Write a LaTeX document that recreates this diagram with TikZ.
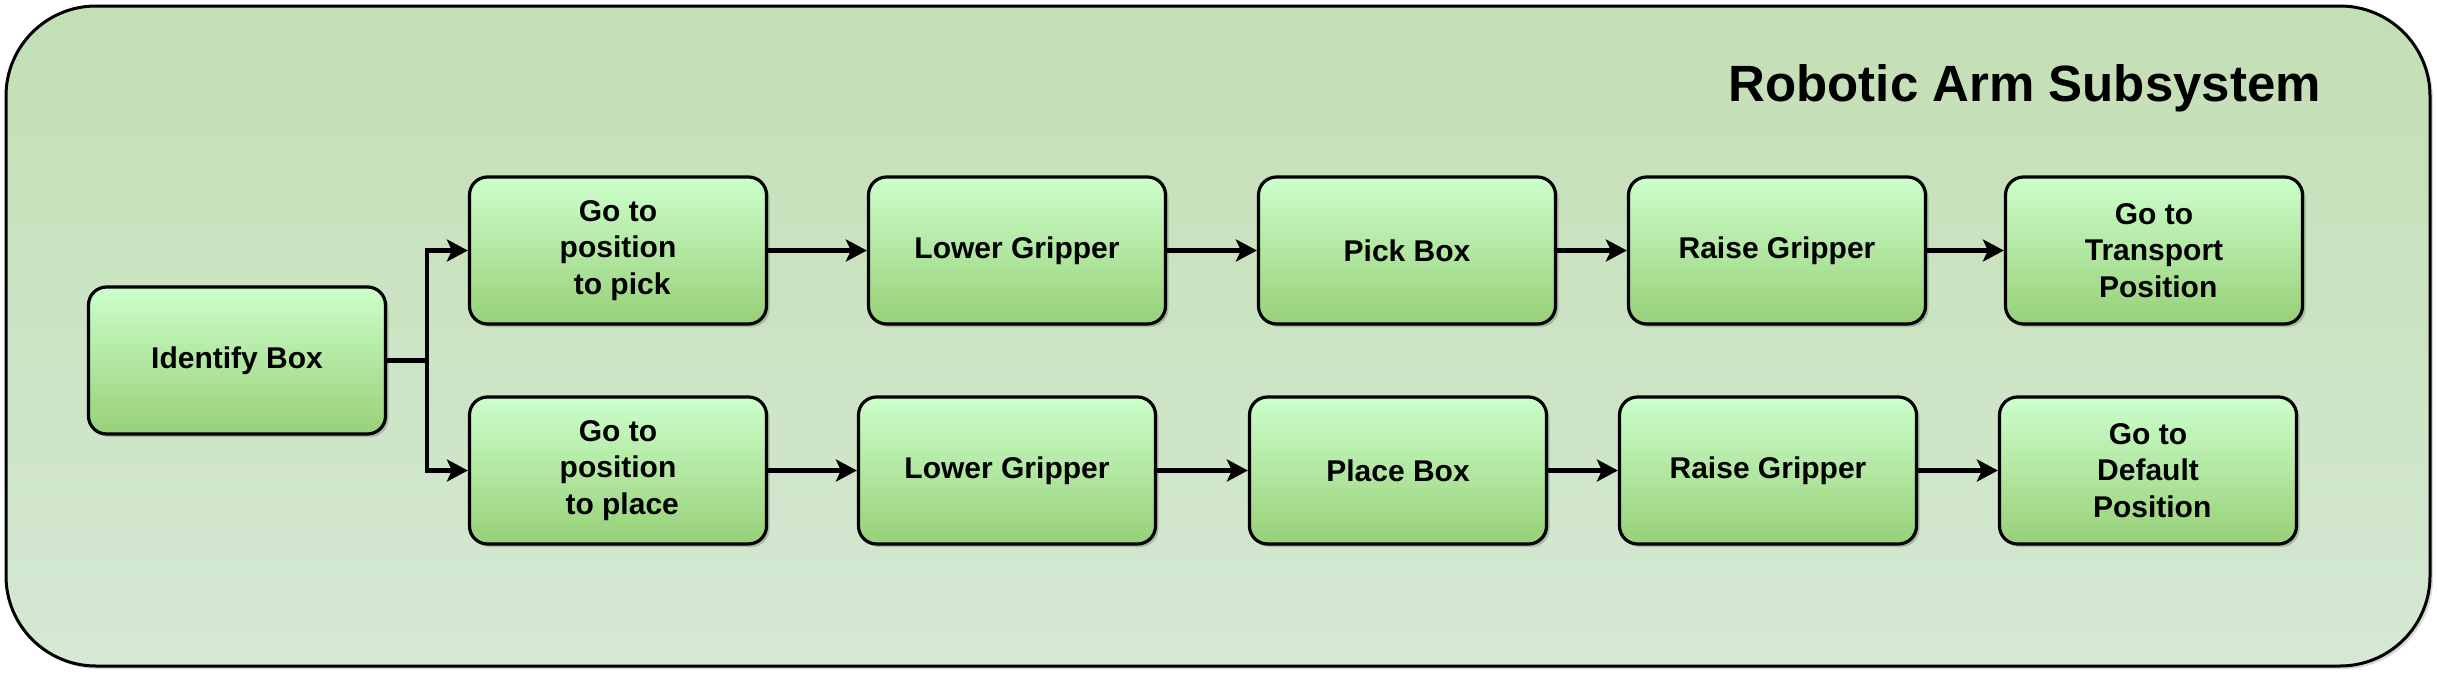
\documentclass[tikz,border=0pt]{standalone}
\usepackage{fontspec}
\setmainfont{Liberation Sans}
\usetikzlibrary{arrows.meta,shadows,calc}
\definecolor{boxtop}{HTML}{CCFFCC}
\definecolor{boxbot}{HTML}{97D077}
\definecolor{outtop}{HTML}{C3DFB4}
\definecolor{outbot}{HTML}{D5E8D4}
\tikzset{
  stepbox/.style={draw=black, line width=1.6pt, rounded corners=9pt,
    top color=boxtop, bottom color=boxbot,
    minimum width=148.5pt, minimum height=73.5pt, inner sep=0pt,
    align=center, font=\fontsize{15}{18.4}\selectfont\bfseries,
    drop shadow={shadow xshift=1.5pt, shadow yshift=-1.5pt, fill=black, opacity=0.18}},
  arr/.style={draw=black, line width=2.1pt,
    -{Stealth[length=10.5pt, width=11pt, inset=2.5pt]}},
}
\begin{document}
\begin{tikzpicture}[x=0.5pt, y=-0.5pt]
\useasboundingbox (0,0) rectangle (2437,675);
% container
\draw[line width=1.5pt, rounded corners=45pt, top color=outtop, bottom color=outbot,
  drop shadow={shadow xshift=1.5pt, shadow yshift=-1.5pt, fill=black, opacity=0.15}]
  (6,6) rectangle (2430,666);
\node[anchor=base east, font=\fontsize{25.5}{30}\selectfont\bfseries] (title) at (2328,101) {Robotic Arm Subsystem};
% nodes
\node[stepbox] (id) at (237,360.5) {Identify Box};
\node[stepbox] (p1) at (618,250.5) {Go to\\position\\\hspace*{0.28em}to pick};
\node[stepbox] (l1) at (1017,250.5) {Lower Gripper};
\node[stepbox] (k1) at (1407,250.5) {Pick Box};
\node[stepbox] (r1) at (1777,250.5) {Raise Gripper};
\node[stepbox] (t1) at (2154,250.5) {Go to\\Transport\\\hspace*{0.28em}Position};
\node[stepbox] (p2) at (618,470.5) {Go to\\position\\\hspace*{0.28em}to place};
\node[stepbox] (l2) at (1007,470.5) {Lower Gripper};
\node[stepbox] (k2) at (1398,470.5) {Place Box};
\node[stepbox] (r2) at (1768,470.5) {Raise Gripper};
\node[stepbox] (t2) at (2148,470.5) {Go to\\Default\\\hspace*{0.28em}Position};
% connectors
\coordinate (fork) at ($(id.east)+(40,0)$);
\draw[line width=2.1pt] (id.east) -- (fork);
\draw[arr] (fork) |- (p1.west);
\draw[arr] (fork) |- (p2.west);
\draw[arr] (p1) -- (l1);
\draw[arr] (l1) -- (k1);
\draw[arr] (k1) -- (r1);
\draw[arr] (r1) -- (t1);
\draw[arr] (p2) -- (l2);
\draw[arr] (l2) -- (k2);
\draw[arr] (k2) -- (r2);
\draw[arr] (r2) -- (t2);
\end{tikzpicture}
\end{document}
